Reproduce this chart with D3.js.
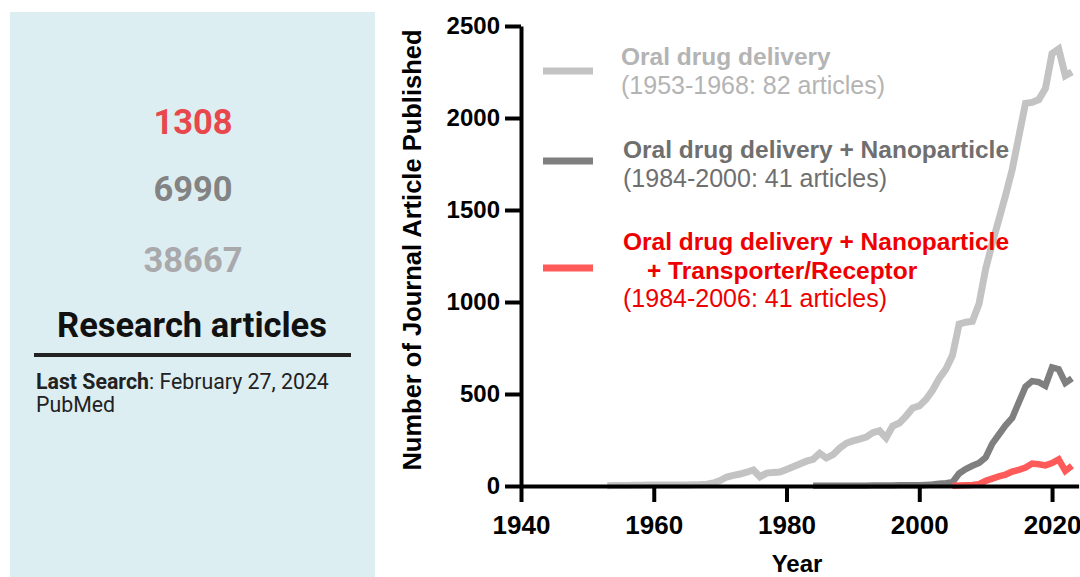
<!DOCTYPE html>
<html>
<head>
<meta charset="utf-8">
<script src="https://cdn.jsdelivr.net/npm/d3@7"></script>
<style>
  body { margin: 0; background: #fff; }
  svg { display: block; }
</style>
</head>
<body>
<div id="chart"></div>
<script>
// Oral drug delivery (all)
const oralYears = [1953,1954,1955,1956,1957,1958,1959,1960,1961,1962,1963,1964,1965,1966,1967,1968,
  1969,1970,1971,1972,1973,1974,1975,1976,1977,1978,1979,1980,1981,1982,1983,1984,1985,1986,1987,1988,
  1989,1990,1991,1992,1993,1994,1995,1996,1997,1998,1999,2000,2001,2002,2003,2004,2005,2006,2007,2008,
  2009,2010,2011,2012,2013,2014,2015,2016,2017,2018,2019,2020,2021,2022,2023];
const oralValues = [2,3,3,3,4,4,5,5,5,6,5,6,6,7,8,10,
  16,30,49,58,65,75,87,50,70,74,76,90,105,120,135,145,178,152,170,205,
  232,245,255,266,290,300,262,326,342,380,424,435,470,520,585,635,710,880,890,895,
  990,1180,1320,1450,1580,1720,1900,2080,2085,2100,2160,2350,2375,2230,2250];

// + Nanoparticle
const nanoYears = [1984,1985,1986,1987,1988,1989,1990,1991,1992,1993,1994,1995,1996,1997,1998,1999,2000,
  2001,2002,2003,2004,2005,2006,2007,2008,2009,2010,2011,2012,2013,2014,2015,2016,2017,2018,2019,2020,
  2021,2022,2023];
const nanoValues = [1,1,1,1,2,1,2,2,2,3,3,3,3,4,4,4,4,
  6,8,12,15,20,68,92,110,125,155,230,280,330,370,455,540,570,565,545,645,
  635,560,585];

// + Nanoparticle + Transporter/Receptor
const receptorYears = [2005,2006,2007,2008,2009,2010,2011,2012,2013,2014,2015,2016,2017,2018,2019,2020,2021,2022,2023];
const receptorValues = [2,3,4,5,10,28,40,52,62,78,88,100,122,118,112,125,145,82,110];

const xTicks = [1940, 1960, 1980, 2000, 2020];
const yTicks = [0, 500, 1000, 1500, 2000, 2500];

const totals = ["1308", "6990", "38667"];
const totalColors = ["#e8474b", "#838383", "#a9a9ab"];

const W = 1080, H = 577;
const svg = d3.select("#chart").append("svg")
  .attr("width", W).attr("height", H);

// left info panel
svg.append("rect")
  .attr("x", 10).attr("y", 12).attr("width", 365).attr("height", 570)
  .attr("fill", "#ddeef3");

const panelFont = "Roboto, 'Noto Sans', sans-serif";
svg.selectAll(".total")
  .data(totals)
  .join("text")
  .attr("class", "total")
  .attr("x", 193)
  .attr("y", (d, i) => [134, 201, 272][i])
  .attr("text-anchor", "middle")
  .style("font-family", panelFont)
  .style("font-weight", 700)
  .style("font-size", "34.5px")
  .style("fill", (d, i) => totalColors[i])
  .text(d => d);

svg.append("text")
  .attr("x", 192).attr("y", 337)
  .attr("text-anchor", "middle")
  .style("font-family", panelFont)
  .style("font-weight", 700)
  .style("font-size", "34.5px")
  .style("fill", "#111")
  .text("Research articles");

svg.append("line")
  .attr("x1", 34).attr("x2", 351).attr("y1", 355).attr("y2", 355)
  .attr("stroke", "#222").attr("stroke-width", 4);

const note = svg.append("text")
  .attr("x", 36).attr("y", 389)
  .style("font-family", panelFont)
  .style("font-size", "21.3px")
  .style("fill", "#222");
note.append("tspan").style("font-weight", 700).text("Last Search");
note.append("tspan").text(": February 27, 2024");
svg.append("text")
  .attr("x", 36).attr("y", 412)
  .style("font-family", panelFont)
  .style("font-size", "21.3px")
  .style("fill", "#222")
  .text("PubMed");

// chart
const chartFont = "'Liberation Sans', Arial, sans-serif";
const x = d3.scaleLinear().domain([1940, 2024]).range([521, 1078.6]);
const y = d3.scaleLinear().domain([0, 2500]).range([486, 26]);

const line = d3.line()
  .x(d => x(d[0]))
  .y(d => y(d[1]));

const series = [
  { years: oralYears, values: oralValues, color: "#c3c3c3", width: 7 },
  { years: nanoYears, values: nanoValues, color: "#7f7f7f", width: 6.5 },
  { years: receptorYears, values: receptorValues, color: "#ff5a5a", width: 6.5 }
];

svg.append("g")
  .selectAll("path")
  .data(series)
  .join("path")
  .attr("d", s => line(s.years.map((yr, i) => [yr, s.values[i]])))
  .attr("fill", "none")
  .attr("stroke", s => s.color)
  .attr("stroke-width", s => s.width)
  .attr("stroke-linejoin", "miter");

// axes
const xAxis = svg.append("g")
  .attr("transform", `translate(0,${y(0)})`)
  .call(d3.axisBottom(x).tickValues(xTicks).tickFormat(d3.format("d")).tickSize(16).tickSizeOuter(0).tickPadding(14));
const yAxis = svg.append("g")
  .attr("transform", `translate(${x(1940)},0)`)
  .call(d3.axisLeft(y).tickValues(yTicks).tickFormat(d3.format("d")).tickSize(16).tickSizeOuter(0).tickPadding(5));

[xAxis, yAxis].forEach(g => {
  g.select(".domain").attr("stroke", "#000").attr("stroke-width", 4);
  g.selectAll(".tick line").attr("stroke", "#000").attr("stroke-width", 4);
  g.selectAll(".tick text")
    .style("font-family", chartFont)
    .style("font-weight", 700)
    .style("fill", "#000");
});
xAxis.selectAll(".tick text").style("font-size", "26px");
yAxis.selectAll(".tick text").style("font-size", "24px");

svg.append("text")
  .attr("x", 797).attr("y", 572)
  .attr("text-anchor", "middle")
  .style("font-family", chartFont)
  .style("font-weight", 700)
  .style("font-size", "24px")
  .text("Year");

svg.append("text")
  .attr("transform", "translate(421,250) rotate(-90)")
  .attr("text-anchor", "middle")
  .style("font-family", chartFont)
  .style("font-weight", 700)
  .style("font-size", "25.5px")
  .text("Number of Journal Article Published");

// legend
const legendItems = [
  { color: "#c3c3c3", textColor: "#b4b4b4", lineY: 71, x: 621,
    lines: [{ t: "Oral drug delivery", b: true, y: 65 }, { t: "(1953-1968: 82 articles)", b: false, y: 94 }] },
  { color: "#7f7f7f", textColor: "#6f6f6f", lineY: 161, x: 623,
    lines: [{ t: "Oral drug delivery + Nanoparticle", b: true, y: 158 }, { t: "(1984-2000: 41 articles)", b: false, y: 187 }] },
  { color: "#ff5a5a", textColor: "#ee0000", lineY: 268, x: 623,
    lines: [{ t: "Oral drug delivery + Nanoparticle", b: true, y: 250 },
            { t: "+ Transporter/Receptor", b: true, y: 279, dx: 24 },
            { t: "(1984-2006: 41 articles)", b: false, y: 307 }] }
];

const lg = svg.append("g").selectAll("g").data(legendItems).join("g");
lg.append("line")
  .attr("x1", 543).attr("x2", 593)
  .attr("y1", d => d.lineY).attr("y2", d => d.lineY)
  .attr("stroke", d => d.color).attr("stroke-width", 7);
lg.each(function (d) {
  d3.select(this).selectAll("text")
    .data(d.lines)
    .join("text")
    .attr("x", l => d.x + (l.dx || 0))
    .attr("y", l => l.y)
    .style("font-family", chartFont)
    .style("font-weight", l => l.b ? 700 : 400)
    .style("font-size", l => l.b ? "24.5px" : "25px")
    .style("fill", d.textColor)
    .text(l => l.t);
});
</script>
</body>
</html>
